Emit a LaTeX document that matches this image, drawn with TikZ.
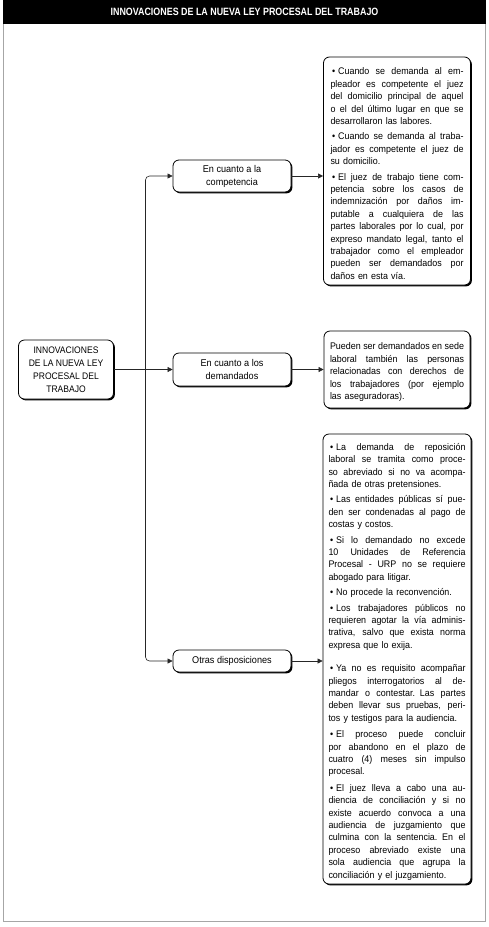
\documentclass[tikz,border=0pt]{standalone}
\usepackage{fontspec}
\setmainfont{Liberation Sans}[FakeStretch=0.93]
\newfontfamily\narrowfont{Liberation Sans}[FakeStretch=0.9]
\newfontfamily\titlefont{Liberation Sans}[FakeStretch=0.84]
\usetikzlibrary{arrows.meta, shadows}

% one line of a justified note: full, last, first of a bullet
\newlength{\notew}
\newcommand{\jl}[1]{\hbox to \notew{\spaceskip=0.25em plus 1fil minus 0.05em\relax #1}}
\newcommand{\el}[1]{\hbox to \notew{#1\hfil}}
\newcommand{\bl}[1]{\jl{\kern1.5pt\textbullet\kern3pt#1}}
\newcommand{\bgap}[1][3pt]{\par\vskip#1}

\tikzset{
    shadowed/.style={draw, fill=white, line width=0.8pt, rounded corners=6pt,
        drop shadow={shadow xshift=1.4pt, shadow yshift=-1.4pt, fill=black, opacity=1}},
    rootbox/.style={shadowed, minimum width=95pt, minimum height=59pt, align=center,
        font=\narrowfont\fontsize{9.5}{13}\selectfont},
    subbox/.style={shadowed, minimum width=118pt, align=center,
        font=\fontsize{9.8}{13}\selectfont},
    notebox/.style={shadowed, inner ysep=0pt, font=\fontsize{9.6}{12.4}\selectfont},
    conn/.style={draw=black!85, line width=0.6pt, -{Triangle[length=5pt,width=5pt]}},
    titlebar/.style={fill=black, text=white, minimum width=483pt, minimum height=24pt,
        inner sep=0pt, font=\titlefont\bfseries\fontsize{10.6}{12}\selectfont}
}

\begin{document}
\begin{tikzpicture}[x=1pt, y=-1pt]
    \useasboundingbox (0,0) rectangle (489,927);

    % Frame and title
    \draw[gray!70, line width=1.2pt] (3.5,0) rectangle (485.5,921.5);
    \node[titlebar] (title) at (244.5,12) {INNOVACIONES DE LA NUEVA LEY PROCESAL DEL TRABAJO};

    % Root and the three topics
    \node[rootbox] (root) at (66,369.5) {INNOVACIONES\\DE LA NUEVA LEY\\PROCESAL DEL\\TRABAJO};
    \node[subbox, minimum height=32pt] (comp) at (232,176) {En cuanto a la\\competencia};
    \node[subbox, minimum height=33pt] (dem) at (232,369.5) {En cuanto a los\\demandados};
    \node[subbox, minimum height=22pt] (otras) at (232,661) {Otras disposiciones};

    % Notes
    \node[notebox, text width=133pt, inner xsep=7pt, minimum height=228pt] (compnote) at (397,171) {%
        \setlength{\notew}{133pt}\par
        \bl{Cuando se demanda al em-}
        \jl{pleador es competente el juez}
        \jl{del domicilio principal de aquel}
        \jl{o el del último lugar en que se}
        \el{desarrollaron las labores.}
        \bgap
        \bl{Cuando se demanda al traba-}
        \jl{jador es competente el juez de}
        \el{su domicilio.}
        \bgap
        \bl{El juez de trabajo tiene com-}
        \jl{petencia sobre los casos de}
        \jl{indemnización por daños im-}
        \jl{putable a cualquiera de las}
        \jl{partes laborales por lo cual, por}
        \jl{expreso mandato legal, tanto el}
        \jl{trabajador como el empleador}
        \jl{pueden ser demandados por}
        \el{daños en esta vía.}};
    \node[notebox, text width=134pt, inner xsep=6pt, minimum height=77pt] (demnote) at (397,369.5) {%
        \setlength{\notew}{134pt}\par
        \jl{Pueden ser demandados en sede}
        \jl{laboral también las personas}
        \jl{relacionadas con derechos de}
        \jl{los trabajadores (por ejemplo}
        \el{las aseguradoras).}};
    \node[notebox, text width=137pt, inner xsep=5.5pt, minimum height=450pt] (otrasnote) at (397,659) {%
        \setlength{\notew}{137pt}\par
        \bl{La demanda de reposición}
        \jl{laboral se tramita como proce-}
        \jl{so abreviado si no va acompa-}
        \el{ñada de otras pretensiones.}
        \bgap
        \bl{Las entidades públicas sí pue-}
        \jl{den ser condenadas al pago de}
        \el{costas y costos.}
        \bgap
        \bl{Si lo demandado no excede}
        \jl{10 Unidades de Referencia}
        \jl{Procesal - URP no se requiere}
        \el{abogado para litigar.}
        \bgap
        \el{\kern1.5pt\textbullet\kern3pt No procede la reconvención.}
        \bgap
        \bl{Los trabajadores públicos no}
        \jl{requieren agotar la vía adminis-}
        \jl{trativa, salvo que exista norma}
        \el{expresa que lo exija.}
        \bgap[11pt]
        \bl{Ya no es requisito acompañar}
        \jl{pliegos interrogatorios al de-}
        \jl{mandar o contestar. Las partes}
        \jl{deben llevar sus pruebas, peri-}
        \el{tos y testigos para la audiencia.}
        \bgap[4pt]
        \bl{El proceso puede concluir}
        \jl{por abandono en el plazo de}
        \jl{cuatro (4) meses sin impulso}
        \el{procesal.}
        \bgap[4pt]
        \bl{El juez lleva a cabo una au-}
        \jl{diencia de conciliación y si no}
        \jl{existe acuerdo convoca a una}
        \jl{audiencia de juzgamiento que}
        \jl{culmina con la sentencia. En el}
        \jl{proceso abreviado existe una}
        \jl{sola audiencia que agrupa la}
        \el{conciliación y el juzgamiento.}};

    % Connectors
    \coordinate (split) at (145.5,369.5);
    \draw[conn] (root.east) -- (root.east -| dem.west);
    \draw[conn, rounded corners=4pt] (split) |- (comp.west);
    \draw[conn, rounded corners=4pt] (split) |- (otras.west);
    \draw[conn] (comp.east) -- (comp.east -| compnote.west);
    \draw[conn] (dem.east) -- (dem.east -| demnote.west);
    \draw[conn] (otras.east) -- (otras.east -| otrasnote.west);
\end{tikzpicture}
\end{document}
